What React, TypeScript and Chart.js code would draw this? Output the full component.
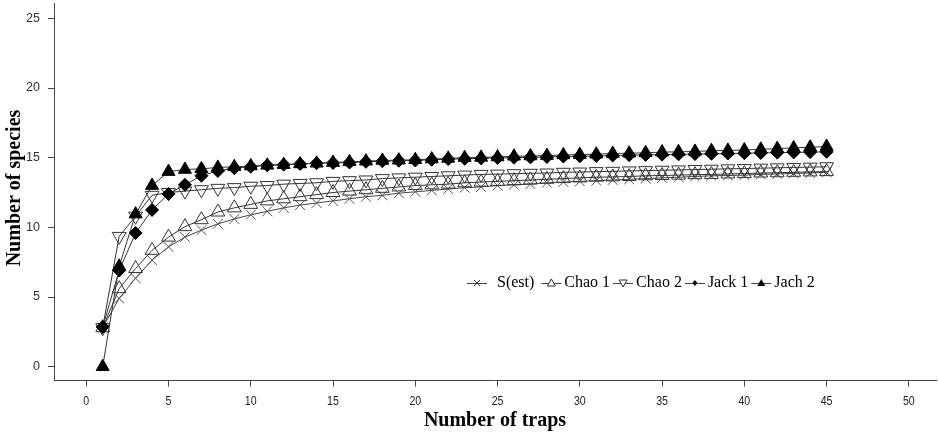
import React, { useEffect, useRef } from 'react';
import { Chart, registerables } from 'chart.js';

Chart.register(...registerables);

// ---- data ----
const traps = [1, 2, 3, 4, 5, 6, 7, 8, 9, 10, 11, 12, 13, 14, 15, 16, 17, 18, 19, 20, 21, 22, 23, 24, 25, 26, 27, 28, 29, 30, 31, 32, 33, 34, 35, 36, 37, 38, 39, 40, 41, 42, 43, 44, 45];

const sEst = [2.8, 4.9, 6.35, 7.65, 8.6, 9.3, 9.8, 10.25, 10.6, 10.9, 11.15, 11.4, 11.6, 11.75, 11.9, 12.05, 12.2, 12.3, 12.45, 12.55, 12.65, 12.75, 12.85, 12.9, 13.0, 13.05, 13.1, 13.2, 13.25, 13.3, 13.35, 13.4, 13.45, 13.5, 13.55, 13.6, 13.65, 13.7, 13.72, 13.75, 13.8, 13.83, 13.87, 13.9, 13.95];

const chao1 = [2.8, 5.6, 7.05, 8.35, 9.3, 10.05, 10.55, 11.1, 11.4, 11.65, 11.9, 12.05, 12.2, 12.35, 12.5, 12.6, 12.7, 12.8, 12.9, 13.0, 13.05, 13.1, 13.2, 13.25, 13.3, 13.35, 13.4, 13.45, 13.5, 13.55, 13.6, 13.62, 13.65, 13.7, 13.72, 13.75, 13.78, 13.8, 13.83, 13.86, 13.9, 13.92, 13.95, 13.98, 14.0];

const chao2 = [2.8, 9.35, 10.8, 12.3, 12.5, 12.6, 12.7, 12.8, 12.85, 12.95, 13.0, 13.1, 13.15, 13.2, 13.3, 13.35, 13.4, 13.5, 13.55, 13.6, 13.65, 13.7, 13.75, 13.8, 13.82, 13.85, 13.88, 13.9, 13.95, 13.97, 14.0, 14.02, 14.05, 14.07, 14.1, 14.12, 14.15, 14.17, 14.2, 14.22, 14.25, 14.27, 14.3, 14.32, 14.35];

const jack1 = [2.85, 6.9, 9.6, 11.25, 12.4, 13.05, 13.7, 14.05, 14.25, 14.35, 14.45, 14.5, 14.55, 14.6, 14.62, 14.65, 14.7, 14.75, 14.78, 14.8, 14.85, 14.9, 14.92, 14.95, 14.98, 15.0, 15.02, 15.05, 15.08, 15.1, 15.12, 15.15, 15.18, 15.2, 15.22, 15.24, 15.26, 15.28, 15.3, 15.32, 15.34, 15.36, 15.38, 15.4, 15.42];

const jack2 = [0, 7.2, 10.95, 13.0, 14.0, 14.15, 14.2, 14.3, 14.35, 14.4, 14.45, 14.5, 14.55, 14.6, 14.65, 14.7, 14.75, 14.8, 14.82, 14.85, 14.9, 14.95, 15.0, 15.02, 15.05, 15.1, 15.12, 15.15, 15.2, 15.22, 15.25, 15.3, 15.32, 15.35, 15.4, 15.42, 15.45, 15.5, 15.52, 15.55, 15.6, 15.65, 15.7, 15.75, 15.8];

const seriesLabels = ['S(est)', 'Chao 1', 'Chao 2', 'Jack 1', 'Jach 2'];
const xTickValues = [0, 5, 10, 15, 20, 25, 30, 35, 40, 45, 50];
const yTickValues = [0, 5, 10, 15, 20, 25];
const xTitle = 'Number of traps';
const yTitle = 'Number of species';

const SERIF = '"Liberation Serif", "Times New Roman", serif';
const SANS = '"Liberation Sans", Arial, sans-serif';

type Marker = 'x' | 'up' | 'down' | 'dot' | 'tri';
const legendMarkers: Marker[] = ['x', 'up', 'down', 'dot', 'tri'];

function drawLegendMarker(ctx: CanvasRenderingContext2D, m: Marker, x: number, y: number) {
  ctx.save();
  ctx.lineWidth = 1;
  ctx.strokeStyle = '#333';
  ctx.fillStyle = '#000';
  ctx.beginPath();
  if (m === 'x') {
    ctx.moveTo(x - 3, y - 3); ctx.lineTo(x + 3, y + 3);
    ctx.moveTo(x - 3, y + 3); ctx.lineTo(x + 3, y - 3);
    ctx.stroke();
  } else if (m === 'up') {
    ctx.moveTo(x, y - 4); ctx.lineTo(x + 4, y + 3); ctx.lineTo(x - 4, y + 3); ctx.closePath();
    ctx.fillStyle = '#fff'; ctx.fill(); ctx.stroke();
  } else if (m === 'down') {
    ctx.moveTo(x - 4, y - 3); ctx.lineTo(x + 4, y - 3); ctx.lineTo(x, y + 4); ctx.closePath();
    ctx.fillStyle = '#fff'; ctx.fill(); ctx.stroke();
  } else if (m === 'dot') {
    ctx.moveTo(x, y - 3); ctx.lineTo(x + 2.5, y); ctx.lineTo(x, y + 3); ctx.lineTo(x - 2.5, y); ctx.closePath();
    ctx.fill();
  } else {
    ctx.moveTo(x, y - 4); ctx.lineTo(x + 4, y + 3); ctx.lineTo(x - 4, y + 3); ctx.closePath();
    ctx.fill();
  }
  ctx.restore();
}

const overlayPlugin = {
  id: 'overlay',
  afterDraw(chart: any) {
    const ctx: CanvasRenderingContext2D = chart.ctx;
    const area = chart.chartArea;
    const xs = chart.scales.x;
    ctx.save();

    // x tick labels (condensed)
    ctx.fillStyle = '#222';
    ctx.font = `12.5px ${SANS}`;
    ctx.textAlign = 'center';
    ctx.textBaseline = 'middle';
    xTickValues.forEach((v) => {
      const px = xs.getPixelForValue(v);
      ctx.save();
      ctx.translate(px, 401.5);
      ctx.scale(0.85, 1);
      ctx.fillText(String(v), 0, 0);
      ctx.restore();
    });

    // titles
    ctx.fillStyle = '#000';
    ctx.font = `bold 20px ${SERIF}`;
    ctx.fillText(xTitle, (area.left + area.right) / 2, 421);
    ctx.save();
    ctx.translate(15, 188);
    ctx.rotate(-Math.PI / 2);
    ctx.fillText(yTitle, 0, 0);
    ctx.restore();

    // legend
    ctx.font = `16px ${SERIF}`;
    ctx.textAlign = 'left';
    ctx.textBaseline = 'middle';
    const ly = 283;
    let x = 467;
    seriesLabels.forEach((lab, i) => {
      ctx.strokeStyle = '#444';
      ctx.lineWidth = 1;
      ctx.beginPath();
      ctx.moveTo(x, ly + 0.5);
      ctx.lineTo(x + 20, ly + 0.5);
      ctx.stroke();
      drawLegendMarker(ctx, legendMarkers[i], x + 10, ly);
      const tx = x + 20 + (i === 0 ? 10 : 3);
      ctx.fillStyle = '#000';
      ctx.fillText(lab, tx, ly);
      const w = ctx.measureText(lab).width;
      x = tx + w + (i === 0 ? 7 : 3);
    });
    ctx.restore();
  },
};

function pts(vals: number[]) {
  return vals.map((v, i) => ({ x: traps[i], y: v }));
}

function zeroPad(s: any) {
  s.paddingTop = 0;
  s.paddingBottom = 0;
  s.paddingLeft = 0;
  s.paddingRight = 0;
}

export default function App() {
  const ref = useRef<HTMLCanvasElement | null>(null);

  useEffect(() => {
    if (!ref.current) return;
    const lineColor = '#333';
    const chart = new Chart(ref.current, {
      type: 'line',
      data: {
        datasets: [
          {
            label: seriesLabels[0], data: pts(sEst), order: 4,
            borderColor: '#444', borderWidth: 1, tension: 0,
            pointStyle: 'crossRot', pointRadius: 7, pointBorderColor: '#555', pointBorderWidth: 1,
            pointBackgroundColor: 'rgba(0,0,0,0)',
          },
          {
            label: seriesLabels[1], data: pts(chao1), order: 3,
            borderColor: lineColor, borderWidth: 1, tension: 0,
            pointStyle: 'triangle', pointRadius: 8, pointBorderColor: '#333', pointBorderWidth: 1,
            pointBackgroundColor: 'rgba(0,0,0,0)',
          },
          {
            label: seriesLabels[2], data: pts(chao2), order: 2,
            borderColor: lineColor, borderWidth: 1, tension: 0,
            pointStyle: 'triangle', pointRotation: 180, pointRadius: 8, pointBorderColor: '#333', pointBorderWidth: 1,
            pointBackgroundColor: 'rgba(0,0,0,0)',
          },
          {
            label: seriesLabels[3], data: pts(jack1), order: 1,
            borderColor: lineColor, borderWidth: 1, tension: 0,
            pointStyle: 'rectRot', pointRadius: 6.5, pointBorderColor: '#000', pointBorderWidth: 1,
            pointBackgroundColor: '#000',
          },
          {
            label: seriesLabels[4], data: pts(jack2), order: 0,
            borderColor: lineColor, borderWidth: 1, tension: 0,
            pointStyle: 'triangle', pointRadius: 7.5, pointBorderColor: '#000', pointBorderWidth: 1,
            pointBackgroundColor: '#000',
          },
        ],
      },
      options: {
        responsive: false,
        animation: false,
        layout: { autoPadding: false, padding: { left: 0, right: 3, top: 3, bottom: 0 } },
        plugins: { legend: { display: false }, tooltip: { enabled: false } },
        scales: {
          x: {
            type: 'linear',
            min: -1.96,
            max: 51.65,
            afterBuildTicks: (s: any) => { s.ticks = xTickValues.map((v) => ({ value: v })); },
            afterFit: (s: any) => { s.height = 56.5; zeroPad(s); },
            grid: { display: true, drawOnChartArea: false, drawTicks: true, tickLength: 6, color: '#444' },
            border: { display: true, color: '#444', width: 1 },
            ticks: { font: { family: SANS, size: 12 }, color: 'rgba(0,0,0,0)', padding: 8, maxRotation: 0, autoSkip: false },
          },
          y: {
            type: 'linear',
            min: -0.99,
            max: 26.1,
            afterBuildTicks: (s: any) => { s.ticks = yTickValues.map((v) => ({ value: v })); },
            afterFit: (s: any) => { s.width = 54; zeroPad(s); },
            grid: { display: true, drawOnChartArea: false, drawTicks: true, tickLength: 6, color: '#444' },
            border: { display: true, color: '#444', width: 1 },
            ticks: { font: { family: SANS, size: 12.5 }, color: '#333', padding: 8, autoSkip: false },
          },
        },
      },
      plugins: [overlayPlugin],
    } as any);
    return () => chart.destroy();
  }, []);

  return (
    <div style={{ position: 'absolute', left: 0, top: 0, width: 939, height: 437, background: '#fff' }}>
      <canvas ref={ref} width={939} height={437} style={{ display: 'block' }} />
    </div>
  );
}
